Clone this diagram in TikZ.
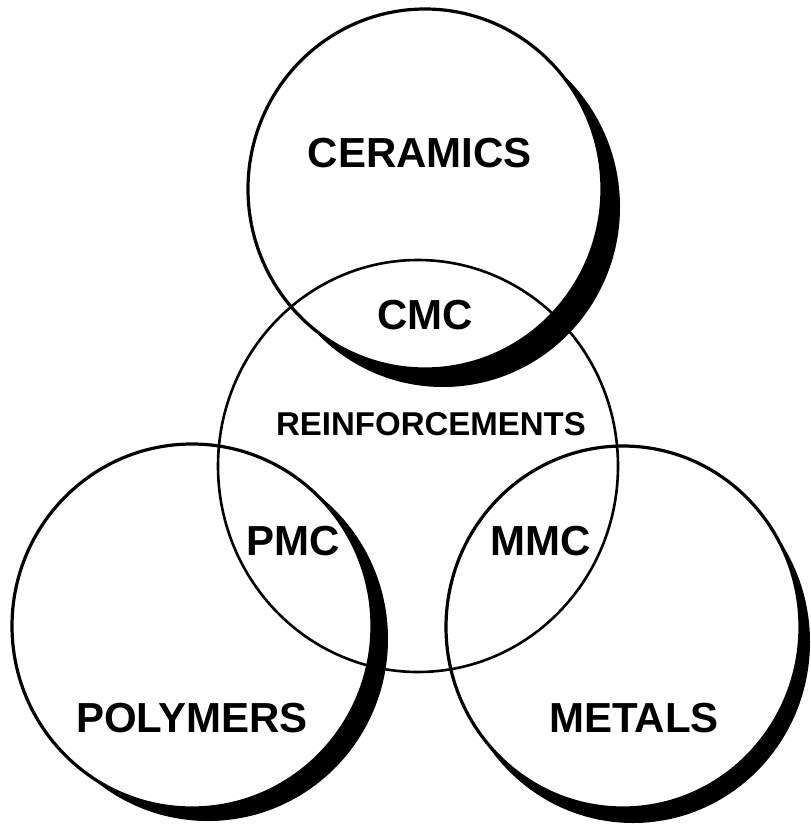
\documentclass[tikz,border=0pt]{standalone}
\usepackage{fontspec}
\setmainfont{Liberation Sans}

\begin{document}
\begin{tikzpicture}[x=1pt,y=-1pt,
    main_label/.style={inner sep=0, font=\bfseries\fontsize{42}{42}\selectfont},
    mid_label/.style={inner sep=0, font=\bfseries\fontsize{33}{33}\selectfont},
    ring/.style={line width=3.2pt},
    thin_ring/.style={line width=2.6pt}]

    \useasboundingbox (0,0) rectangle (811,825);

    % shadows
    \fill[black] (443,207) ellipse (177pt and 180pt);
    \fill[black] (208,639) ellipse (180pt and 182pt);
    \fill[black] (633,642) ellipse (177pt and 181pt);

    \fill[white] (425,189) ellipse (177pt and 180pt);
    \fill[white] (192,626) ellipse (180pt and 182pt);
    \fill[white] (623,627) ellipse (177pt and 181pt);

    \draw[ring] (425,189) ellipse (177pt and 180pt);
    \draw[ring] (192,626) ellipse (180pt and 182pt);
    \draw[ring] (623,627) ellipse (177pt and 181pt);
    \draw[thin_ring] (418,466) ellipse (200pt and 206pt);

    \node[main_label] (ceramics) at (420,153) {CERAMICS};
    \node[main_label] (cmc) at (425,315) {CMC};
    \node[mid_label] (reinf) at (431,424) {REINFORCEMENTS};
    \node[main_label] (pmc) at (293,541) {PMC};
    \node[main_label] (mmc) at (541,541) {MMC};
    \node[main_label] (polymers) at (192,718) {POLYMERS};
    \node[main_label] (metals) at (634,718) {METALS};

\end{tikzpicture}
\end{document}
